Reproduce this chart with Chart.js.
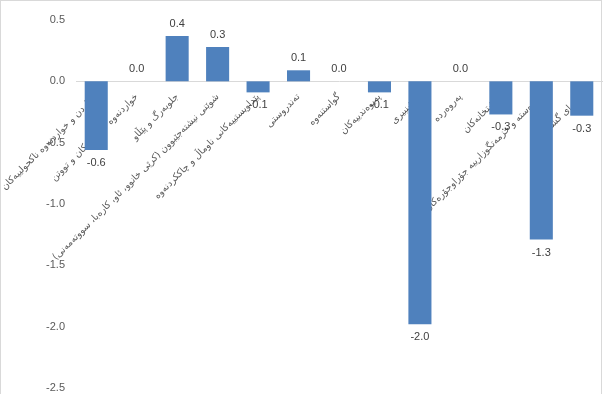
<!DOCTYPE html>
<html>
<head>
<meta charset="utf-8">
<script src="https://cdn.jsdelivr.net/npm/chart.js@4/dist/chart.umd.min.js"></script>
<style>
  html, body { margin: 0; padding: 0; background: #fff; }
  #wrap { position: relative; width: 607px; height: 394px; }
</style>
</head>
<body>
<div id="wrap"><canvas id="chart"></canvas></div>
<script>
// گۆڕانی نرخەکان به پێی گروپەکان
const categories = [
    "خواردن و خواردنەوە ناکحولییەکان",
    "خواردنەوە کحولییەکان و تووتن",
    "جلوبەرگ و پێڵاو",
    "شوێنی نیشتەجێبوون (کرێی خانوو، ئاو، کارەبا، سووتەمەنی)",
    "پێداویستییەکانی ناوماڵ و چاککردنەوە",
    "تەندروستی",
    "گواستنەوە",
    "پەیوەندییەکان",
    "رۆشنبیری",
    "پەروەردە",
    "چێشتخانەکان",
    "کەرەستە و خزمەتگوزارییە جۆراوجۆرەکان",
    "تێکڕای گشتی"
];
const values = [-0.56, 0.0, 0.37, 0.28, -0.09, 0.09, 0.0, -0.09, -1.98, 0.0, -0.27, -1.29, -0.28];
const yTicks = [0.5, 0.0, -0.5, -1.0, -1.5, -2.0, -2.5];

const grey = "#595959";

// ژمارەی سەر ستوونەکان
const barLabels = {
    id: "barLabels",
    afterDatasetsDraw(chart) {
        const ctx = chart.ctx;
        const meta = chart.getDatasetMeta(0);
        ctx.save();
        ctx.font = "11px 'Liberation Sans', Arial, sans-serif";
        ctx.fillStyle = "#404040";
        ctx.textAlign = "center";
        ctx.textBaseline = "middle";
        meta.data.forEach(function(bar, i) {
            const v = values[i];
            const txt = v.toFixed(1);
            const y = v >= 0 ? bar.y - 12 : bar.y + 13;
            ctx.fillText(txt === "-0.0" ? "0.0" : txt, bar.x, y);
        });
        ctx.restore();
    }
};

const chartBorder = {
    id: "chartBorder",
    beforeDraw(chart) {
        const ctx = chart.ctx;
        ctx.save();
        ctx.strokeStyle = "#d9d9d9";
        ctx.lineWidth = 1;
        ctx.strokeRect(0.5, 0.5, 601, 400);
        ctx.restore();
    }
};

new Chart(document.getElementById("chart"), {
    type: "bar",
    data: {
        labels: categories,
        datasets: [{
            data: values,
            backgroundColor: "#4f81bd",
            barPercentage: 0.57,
            categoryPercentage: 1.0,
        }],
    },
    options: {
        responsive: true,
        maintainAspectRatio: false,
        animation: false,
        layout: { padding: { top: 20, bottom: 6, left: 0, right: 5 } },
        plugins: {
            legend: { display: false },
            tooltip: { enabled: false },
        },
        scales: {
            x: {
                position: { y: 0 },
                z: 1,
                grid: { display: false },
                border: { display: true, color: "#d9d9d9", width: 1 },
                ticks: {
                    autoSkip: false,
                    minRotation: 45,
                    maxRotation: 45,
                    padding: 2,
                    color: grey,
                    font: { family: "'DejaVu Sans', sans-serif", size: 9.5 },
                    callback: function(v, i) { return categories[i] + "\u200F"; },
                },
                afterFit: function(s) {
                    s.paddingLeft = 0; s.paddingRight = 0;
                    s.paddingTop = 0; s.paddingBottom = 0;
                },
            },
            y: {
                min: -2.5,
                max: 0.5,
                grid: { display: false },
                border: { display: false },
                afterBuildTicks: function(s) { s.ticks = yTicks.map(function(v) { return { value: v }; }); },
                afterFit: function(s) {
                    s.width = 76;
                    s.paddingTop = 0; s.paddingBottom = 0;
                },
                ticks: {
                    padding: 3,
                    color: grey,
                    font: { family: "'Liberation Sans', Arial, sans-serif", size: 11 },
                    callback: function(v) { return v.toFixed(1); },
                },
            },
        },
    },
    plugins: [barLabels, chartBorder],
});
</script>
</body>
</html>
